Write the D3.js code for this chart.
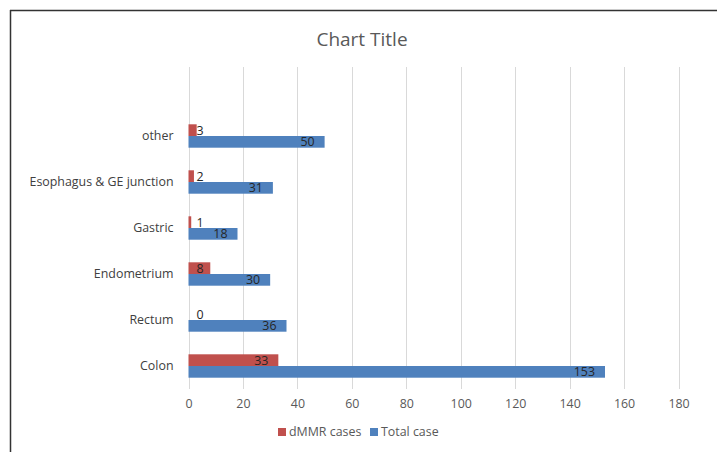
<!DOCTYPE html>
<html><head><meta charset="utf-8">
<script src="https://cdn.jsdelivr.net/npm/d3@7"></script>
<style>body{margin:0;background:#fff}svg{display:block}text{font-family:"Open Sans",sans-serif}</style>
</head><body><svg id="c" width="717" height="452"></svg>
<script>
const categories = ["Colon", "Rectum", "Endometrium", "Gastric", "Esophagus & GE junction", "other"];
const dmmrCases = [33, 0, 8, 1, 2, 3];
const totalCases = [153, 36, 30, 18, 31, 50];
const xTicks = [0, 20, 40, 60, 80, 100, 120, 140, 160, 180];
const seriesNames = ["dMMR cases", "Total case"];
const colors = ["#C0504D", "#4F81BD"];

const fs = 12.4;
const svg = d3.select("#c");
svg.append("line").attr("x1",10).attr("x2",717).attr("y1",10.5).attr("y2",10.5).attr("stroke","#333").attr("stroke-width",1.5);
svg.append("line").attr("x1",10.5).attr("x2",10.5).attr("y1",10).attr("y2",452).attr("stroke","#333").attr("stroke-width",1.5);

const pLeft = 188.5, pRight = 678.5, pTop = 67, pBottom = 389;
const x = d3.scaleLinear().domain([0, 180]).range([pLeft, pRight]);
const bandH = (pBottom - pTop) / 7;
const y = d3.scaleBand().domain(categories).range([pBottom, pBottom - 6 * bandH]);

svg.append("text").attr("x", 362).attr("y", 46).attr("text-anchor","middle")
  .attr("font-size", 19).attr("fill","#595959").text("Chart Title");

svg.append("g").selectAll("line").data(xTicks).join("line")
  .attr("x1", d => Math.round(x(d)) + 0.5).attr("x2", d => Math.round(x(d)) + 0.5)
  .attr("y1", pTop).attr("y2", pBottom)
  .attr("stroke", "#d9d9d9").attr("stroke-width", 1);

const xa = svg.append("g").attr("transform", `translate(0,${pBottom})`)
  .call(d3.axisBottom(x).tickValues(xTicks).tickSize(0).tickPadding(10));
xa.select(".domain").remove();
xa.selectAll("text").attr("font-size", fs).attr("fill", "#595959").attr("font-family","Open Sans");

const ya = svg.append("g").attr("transform", `translate(${pLeft},0)`)
  .call(d3.axisLeft(y).tickSize(0).tickPadding(15));
ya.select(".domain").remove();
ya.selectAll("text").attr("font-size", fs).attr("fill", "#404040").attr("font-family","Open Sans");

const barH = 11.7;
const series = [dmmrCases, totalCases];
series.forEach((vals, si) => {
  const g = svg.append("g");
  categories.forEach((c, i) => {
    const cy = y(c) + y.bandwidth() / 2;
    const y0 = si === 0 ? cy - barH : cy;
    const w = x(vals[i]) - x(0);
    if (w > 0) g.append("rect").attr("x", x(0)).attr("y", y0).attr("width", w).attr("height", barH).attr("fill", colors[si]);
    const lx = Math.max(x(vals[i]) - 10, x(0) + 15);
    g.append("text").attr("x", lx).attr("y", y0 + barH / 2).attr("dy", "0.36em")
      .attr("text-anchor", "end").attr("font-size", fs).attr("fill", "#262626").text(vals[i]);
  });
});

const legend = svg.append("g").attr("transform", "translate(0,432)");
const legX = [278, 370];
seriesNames.forEach((n, i) => {
  legend.append("rect").attr("x", legX[i]).attr("y", -4).attr("width", 8).attr("height", 8).attr("fill", colors[i]);
  legend.append("text").attr("x", legX[i] + 11).attr("y", 0).attr("dy", "0.36em")
    .attr("font-size", fs).attr("fill", "#595959").text(n);
});
</script></body></html>
